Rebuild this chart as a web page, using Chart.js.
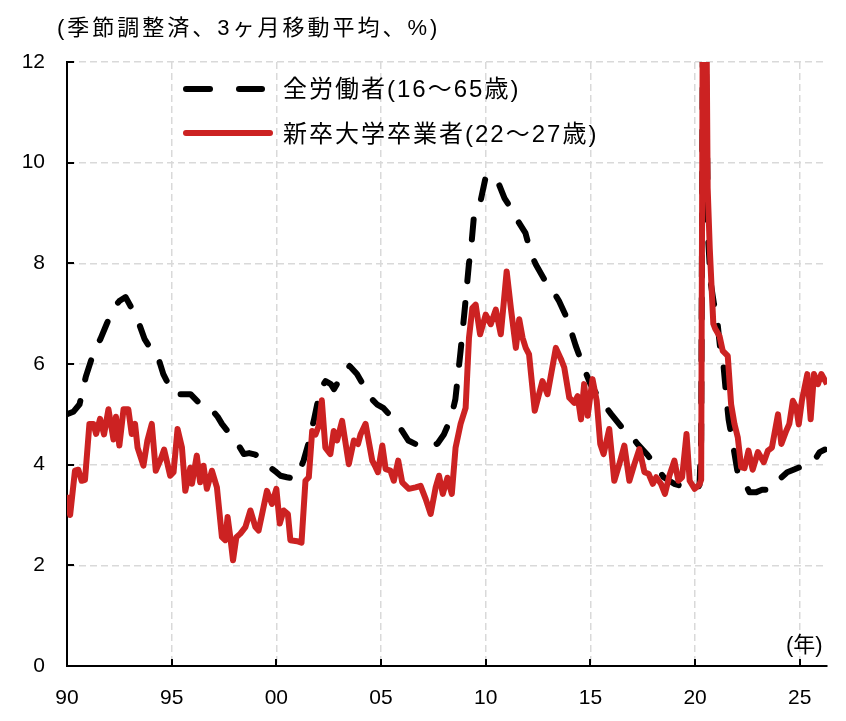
<!DOCTYPE html>
<html lang="ja">
<head>
<meta charset="utf-8">
<script src="https://cdn.jsdelivr.net/npm/chart.js@4.4.1/dist/chart.umd.min.js"></script>
<style>
  body { margin: 0; background: #fff; }
  #wrap { position: relative; width: 846px; height: 721px; font-family: "Liberation Sans", "Noto Sans CJK JP", sans-serif; color: #000; }
  canvas { position: absolute; left: 0; top: 0; }
  .lbl { position: absolute; white-space: nowrap; line-height: 1; }
  svg { position: absolute; left: 0; top: 0; }
</style>
</head>
<body>
<div id="wrap">
  <canvas id="chart" width="846" height="721"></canvas>
  <svg width="846" height="721">
    <line x1="186" y1="89" x2="210" y2="89" stroke="#000" stroke-width="6" stroke-linecap="round"/>
    <line x1="239" y1="89" x2="262" y2="89" stroke="#000" stroke-width="6" stroke-linecap="round"/>
    <line x1="186" y1="133" x2="270" y2="133" stroke="#cc2222" stroke-width="6" stroke-linecap="round"/>
  </svg>
  <div class="lbl" style="left:57px; top:17px; font-size:22px; letter-spacing:3px;">(季節調整済、3ヶ月移動平均、%)</div>
  <div class="lbl" style="left:283px; top:77px; font-size:24px; letter-spacing:2px;">全労働者(16〜65歳)</div>
  <div class="lbl" style="left:283px; top:122px; font-size:24px; letter-spacing:2px;">新卒大学卒業者(22〜27歳)</div>
  <div class="lbl" style="left:786px; top:634px; font-size:22px;">(年)</div>
</div>
<script>
// 全労働者(16〜65歳), 3ヶ月移動平均
const allYears = [1990.0, 1990.3, 1990.6, 1990.9, 1991.25, 1991.6, 1991.9, 1992.2, 1992.5, 1992.8,
  1993.1, 1993.4, 1993.7, 1994.0, 1994.3, 1994.6, 1994.9, 1995.1, 1995.5, 1995.9,
  1996.3, 1996.6, 1996.9, 1997.2, 1997.4, 1997.8, 1998.2, 1998.45, 1998.7, 1999.0,
  1999.3, 1999.6, 2000.0, 2000.2, 2000.5, 2000.9, 2001.1, 2001.3, 2001.55, 2001.8,
  2002.1, 2002.35, 2002.6, 2002.75, 2003.1, 2003.5, 2003.85, 2004.2, 2004.5, 2004.8,
  2005.1, 2005.5, 2005.9, 2006.3, 2006.7, 2007.1, 2007.5, 2007.7, 2008.0, 2008.35,
  2008.55, 2008.8, 2009.0, 2009.2, 2009.3, 2009.45, 2009.75, 2010.0, 2010.2, 2010.4,
  2010.6, 2010.9, 2011.1, 2011.35, 2011.6, 2011.9, 2012.15, 2012.4, 2012.8, 2013.15,
  2013.5, 2013.9, 2014.3, 2014.65, 2015.0, 2015.4, 2016.0, 2016.5, 2016.9, 2017.25,
  2017.75, 2018.1, 2018.5, 2019.0, 2019.6, 2020.1, 2020.21, 2020.29, 2020.37, 2020.45,
  2020.54, 2020.62, 2020.75, 2020.9, 2021.05, 2021.2, 2021.35, 2021.5, 2021.6, 2021.85,
  2022.05, 2022.3, 2022.6, 2022.9, 2023.2, 2023.6, 2024.0, 2024.4, 2024.7, 2025.0,
  2025.3, 2025.65, 2025.95, 2026.2];
const allRate = [5.0, 5.05, 5.2, 5.75, 6.2, 6.5, 6.8, 7.1, 7.25, 7.33,
  7.1, 6.85, 6.5, 6.3, 6.2, 5.8, 5.55, 5.4, 5.4, 5.4,
  5.23, 5.2, 5.1, 4.95, 4.81, 4.6, 4.38, 4.21, 4.23, 4.2,
  4.1, 3.98, 3.85, 3.78, 3.75, 3.72, 3.88, 4.08, 4.45, 4.9,
  5.5, 5.66, 5.6, 5.5, 5.75, 5.96, 5.8, 5.55, 5.33, 5.2,
  5.13, 4.95, 4.74, 4.48, 4.4, 4.38, 4.38, 4.42, 4.6, 4.94,
  5.3, 6.26, 7.1, 8.0, 8.3, 9.0, 9.23, 9.72, 9.75, 9.72,
  9.6, 9.29, 9.16, 8.95, 8.8, 8.6, 8.2, 7.97, 7.68, 7.5,
  7.25, 6.89, 6.36, 5.96, 5.6, 5.33, 5.0, 4.74, 4.6, 4.41,
  4.18, 4.0, 3.75, 3.62, 3.55, 3.52, 3.6, 4.5, 12.5, 13.5,
  11.5, 8.5, 7.6, 7.2, 6.9, 6.3, 6.0, 5.3, 4.9, 4.3,
  3.8, 3.7, 3.45, 3.45, 3.5, 3.5, 3.7, 3.85, 3.9, 3.95,
  4.0, 4.05, 4.25, 4.3];

// 新卒大学卒業者(22〜27歳), 3ヶ月移動平均
const gradYears = [1990.0, 1990.15, 1990.38, 1990.54, 1990.7, 1990.86, 1991.07, 1991.26, 1991.39, 1991.58,
  1991.77, 1991.98, 1992.22, 1992.34, 1992.5, 1992.7, 1992.93, 1993.09, 1993.25, 1993.37,
  1993.65, 1993.84, 1994.05, 1994.24, 1994.45, 1994.64, 1994.93, 1995.09, 1995.28, 1995.49,
  1995.65, 1995.89, 1995.97, 1996.2, 1996.36, 1996.52, 1996.68, 1996.92, 1997.16, 1997.4,
  1997.56, 1997.67, 1997.8, 1997.93, 1998.09, 1998.28, 1998.52, 1998.76, 1999.0, 1999.15,
  1999.32, 1999.55, 1999.79, 2000.0, 2000.16, 2000.35, 2000.55, 2000.67, 2000.99, 2001.2,
  2001.39, 2001.55, 2001.71, 2001.87, 2002.03, 2002.17, 2002.34, 2002.58, 2002.74, 2002.9,
  2003.14, 2003.46, 2003.7, 2003.9, 2004.02, 2004.26, 2004.58, 2004.74, 2004.85, 2005.06,
  2005.22, 2005.45, 2005.61, 2005.82, 2006.01, 2006.33, 2006.65, 2006.89, 2007.13, 2007.37,
  2007.61, 2007.77, 2007.95, 2008.17, 2008.38, 2008.56, 2008.8, 2009.04, 2009.2, 2009.36,
  2009.52, 2009.73, 2010.0, 2010.24, 2010.48, 2010.72, 2011.0, 2011.2, 2011.44, 2011.6,
  2011.76, 2011.91, 2012.07, 2012.34, 2012.71, 2012.95, 2013.35, 2013.59, 2013.75, 2013.99,
  2014.23, 2014.39, 2014.55, 2014.7, 2014.87, 2015.1, 2015.3, 2015.47, 2015.63, 2015.9,
  2016.14, 2016.38, 2016.62, 2016.86, 2017.1, 2017.34, 2017.58, 2017.78, 2017.98, 2018.14,
  2018.37, 2018.56, 2018.77, 2019.01, 2019.2, 2019.38, 2019.59, 2019.74, 2019.98, 2020.2,
  2020.29, 2020.37, 2020.45, 2020.54, 2020.6, 2020.7, 2020.79, 2020.87, 2020.96, 2021.17,
  2021.32, 2021.56, 2021.72, 2021.88, 2022.04, 2022.2, 2022.36, 2022.55, 2022.75, 2023.0,
  2023.28, 2023.48, 2023.67, 2023.96, 2024.12, 2024.35, 2024.5, 2024.67, 2024.83, 2024.95,
  2025.1, 2025.36, 2025.52, 2025.68, 2025.87, 2026.03, 2026.3];
const gradRate = [3.4, 3.0, 3.88, 3.9, 3.68, 3.7, 4.81, 4.81, 4.61, 4.91,
  4.6, 5.1, 4.5, 4.95, 4.38, 5.1, 5.1, 4.61, 4.81, 4.34,
  3.98, 4.48, 4.81, 3.88, 4.08, 4.3, 3.78, 3.85, 4.71, 4.34,
  3.48, 3.94, 3.62, 4.18, 3.65, 3.98, 3.52, 3.88, 3.55, 2.56,
  2.5, 2.96, 2.56, 2.1, 2.56, 2.63, 2.76, 3.09, 2.76, 2.69,
  3.02, 3.48, 3.22, 3.52, 2.83, 3.09, 3.02, 2.5, 2.48, 2.45,
  3.68, 3.75, 4.67, 4.6, 4.78, 5.28, 4.34, 4.21, 4.67, 4.48,
  4.87, 4.01, 4.48, 4.41, 4.6, 4.81, 4.08, 3.95, 3.85, 4.38,
  3.91, 3.88, 3.68, 4.08, 3.65, 3.52, 3.55, 3.58, 3.32, 3.02,
  3.55, 3.78, 3.42, 3.74, 3.42, 4.34, 4.81, 5.13, 6.52, 7.11,
  7.18, 6.59, 6.98, 6.79, 7.08, 6.59, 7.84, 7.11, 6.32, 6.89,
  6.52, 6.32, 6.19, 5.07, 5.66, 5.4, 6.32, 6.1, 5.93, 5.33,
  5.23, 5.36, 4.9, 5.6, 4.97, 5.7, 5.27, 4.41, 4.21, 4.71,
  3.68, 4.01, 4.38, 3.68, 4.01, 4.31, 3.85, 3.82, 3.62, 3.75,
  3.62, 3.42, 3.78, 4.08, 3.68, 3.75, 4.61, 3.68, 3.52, 3.6,
  3.7, 13.5, 14.0, 13.0, 9.5, 8.3, 7.5, 6.8, 6.7, 6.55,
  6.26, 6.16, 5.2, 4.81, 4.54, 3.95, 3.93, 4.28, 3.9, 4.25,
  4.05, 4.28, 4.34, 5.0, 4.41, 4.67, 4.81, 5.27, 5.14, 4.8,
  5.27, 5.8, 4.9, 5.8, 5.6, 5.8, 5.6];

const xTickYears = [1990, 1995, 2000, 2005, 2010, 2015, 2020, 2025];
const xTickLabels = ['90', '95', '00', '05', '10', '15', '20', '25'];
const yTicks = [0, 2, 4, 6, 8, 10, 12];

const FONT = '"Liberation Sans", "Noto Sans CJK JP", sans-serif';

// ticks point inward on this chart, so draw them by hand
const innerTicks = {
  id: 'innerTicks',
  afterDraw(chart) {
    const { ctx, chartArea, scales } = chart;
    ctx.save();
    ctx.strokeStyle = '#000';
    ctx.lineWidth = 2;
    ctx.beginPath();
    xTickYears.forEach(v => {
      const px = Math.round(scales.x.getPixelForValue(v));
      ctx.moveTo(px, chartArea.bottom);
      ctx.lineTo(px, chartArea.bottom - 7);
    });
    yTicks.forEach(v => {
      const py = Math.round(scales.y.getPixelForValue(v));
      ctx.moveTo(chartArea.left, py);
      ctx.lineTo(chartArea.left + 7, py);
    });
    ctx.stroke();
    ctx.restore();
  }
};

const toPoints = (xs, ys) => xs.map((x, i) => ({ x: x, y: ys[i] }));

new Chart(document.getElementById('chart'), {
  type: 'line',
  data: {
    datasets: [{
      label: '新卒大学卒業者(22〜27歳)',
      data: toPoints(gradYears, gradRate),
      borderColor: '#cc2222',
      borderWidth: 6,
      borderJoinStyle: 'round',
      pointRadius: 0,
      tension: 0,
      clip: 0,
      order: 0
    }, {
      label: '全労働者(16〜65歳)',
      data: toPoints(allYears, allRate),
      borderColor: '#000',
      borderWidth: 6,
      borderDash: [20, 22],
      borderCapStyle: 'round',
      borderJoinStyle: 'round',
      pointRadius: 0,
      tension: 0,
      clip: 0,
      order: 1
    }]
  },
  options: {
    responsive: false,
    animation: false,
    events: [],
    layout: { padding: { top: 62, right: 19, left: 0, bottom: 0 } },
    plugins: { legend: { display: false }, tooltip: { enabled: false } },
    scales: {
      x: {
        type: 'linear',
        min: 1990,
        max: 2026.3,
        afterBuildTicks: s => { s.ticks = xTickYears.map(v => ({ value: v })); },
        afterFit: s => { s.height = 55; },
        ticks: {
          autoSkip: false,
          maxRotation: 0,
          padding: 20,
          color: '#000',
          font: { family: FONT, size: 21 },
          callback: v => xTickLabels[xTickYears.indexOf(v)]
        },
        grid: { color: '#d9d9d9', lineWidth: 1.5, drawTicks: false },
        border: { display: true, color: '#000', width: 2, dash: [7, 4] }
      },
      y: {
        min: 0,
        max: 12,
        afterBuildTicks: s => { s.ticks = yTicks.map(v => ({ value: v })); },
        afterFit: s => { s.width = 67; },
        ticks: {
          padding: 22,
          color: '#000',
          font: { family: FONT, size: 21 }
        },
        grid: { color: '#d9d9d9', lineWidth: 1.5, drawTicks: false },
        border: { display: true, color: '#000', width: 2, dash: [7, 4] }
      }
    }
  },
  plugins: [innerTicks]
});
</script>
</body>
</html>
